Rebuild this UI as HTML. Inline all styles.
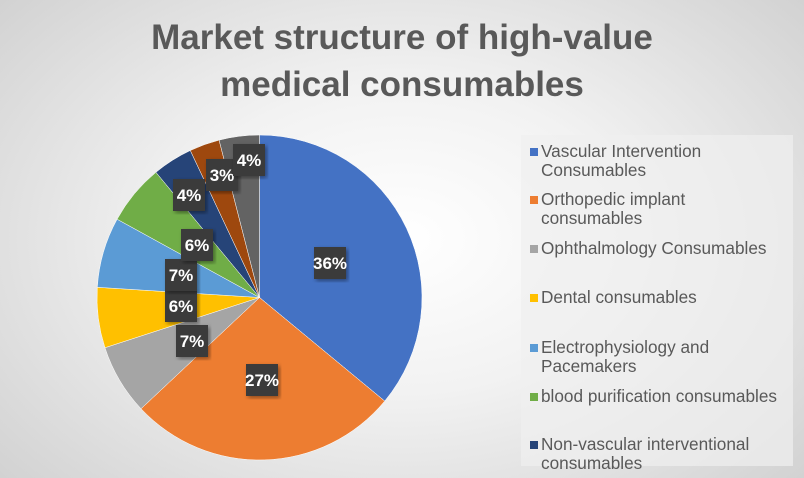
<!DOCTYPE html>
<html><head><meta charset="utf-8"><style>
body{margin:0;width:804px;height:478px;overflow:hidden;font-family:"Liberation Sans",sans-serif;}
#bg{position:absolute;left:0;top:0;width:804px;height:478px;background:radial-gradient(ellipse 70% 80% at 50% 50%,#ffffff 0%,#f2f2f2 40%,#cfcfcf 100%);}
.t{position:absolute;left:0;width:804px;text-align:center;font-weight:bold;font-size:35px;color:#595959;}
#leg{position:absolute;left:521px;top:135px;width:272px;height:331px;background:rgba(240,240,240,0.7);}
.li{position:absolute;left:530px;font-size:17.2px;color:#595959;line-height:19px;white-space:nowrap;}
.li i{position:absolute;left:0;top:6px;width:8px;height:8px;}
.li span{display:block;padding-left:11px;}
</style></head><body>
<div id="bg"></div>
<div class="t" style="top:18px">Market structure of high-value</div>
<div class="t" style="top:65px">medical consumables</div>
<svg style="position:absolute;left:0;top:0" width="804" height="478">
<defs><filter id="sh"><feDropShadow dx="2" dy="2" stdDeviation="2" flood-opacity="0.4"/></filter></defs>
<g id="pie" stroke="#fff" stroke-width="0.5"></g>
<g id="lab" font-family="Liberation Sans,sans-serif" font-weight="bold" font-size="17" fill="#fff" text-anchor="middle"></g>
</svg>
<div id="leg"></div>
<div class="li" style="top:142px"><i style="background:#4472c4"></i><span>Vascular Intervention<br>Consumables</span></div>
<div class="li" style="top:190px"><i style="background:#ed7d31"></i><span>Orthopedic implant<br>consumables</span></div>
<div class="li" style="top:239px"><i style="background:#a5a5a5"></i><span>Ophthalmology Consumables</span></div>
<div class="li" style="top:288px"><i style="background:#ffc000"></i><span>Dental consumables</span></div>
<div class="li" style="top:338px"><i style="background:#5b9bd5"></i><span>Electrophysiology and<br>Pacemakers</span></div>
<div class="li" style="top:387px"><i style="background:#70ad47"></i><span>blood purification consumables</span></div>
<div class="li" style="top:435px"><i style="background:#264478"></i><span>Non-vascular interventional<br>consumables</span></div>
<script>
var v=[36,27,7,6,7,6,4,3,4],c=["#4472c4","#ed7d31","#a5a5a5","#ffc000","#5b9bd5","#70ad47","#264478","#9e480e","#636363"];
var cx=259.5,cy=297.5,r=162.5,a=0,g=document.getElementById('pie'),s='';
v.forEach(function(p,i){var b=a+p/100*2*Math.PI;
var x1=cx+r*Math.sin(a),y1=cy-r*Math.cos(a),x2=cx+r*Math.sin(b),y2=cy-r*Math.cos(b);
s+='<path fill="'+c[i]+'" d="M'+cx+','+cy+'L'+x1+','+y1+'A'+r+','+r+' 0 '+(b-a>Math.PI?1:0)+' 1 '+x2+','+y2+'Z"/>';a=b;});
g.innerHTML=s;
var L=[[330,263,'36%'],[262,380,'27%'],[192,341,'7%'],[181,306,'6%'],[181,275,'7%'],[197,245,'6%'],[189,195,'4%'],[222,175,'3%'],[249,160,'4%']],t='';
L.forEach(function(l){t+='<rect x="'+(l[0]-16)+'" y="'+(l[1]-16)+'" width="32" height="32" fill="#3a3a3a" filter="url(#sh)"/><text x="'+l[0]+'" y="'+(l[1]+6)+'">'+l[2]+'</text>';});
document.getElementById('lab').innerHTML=t;
</script>
</body></html>
